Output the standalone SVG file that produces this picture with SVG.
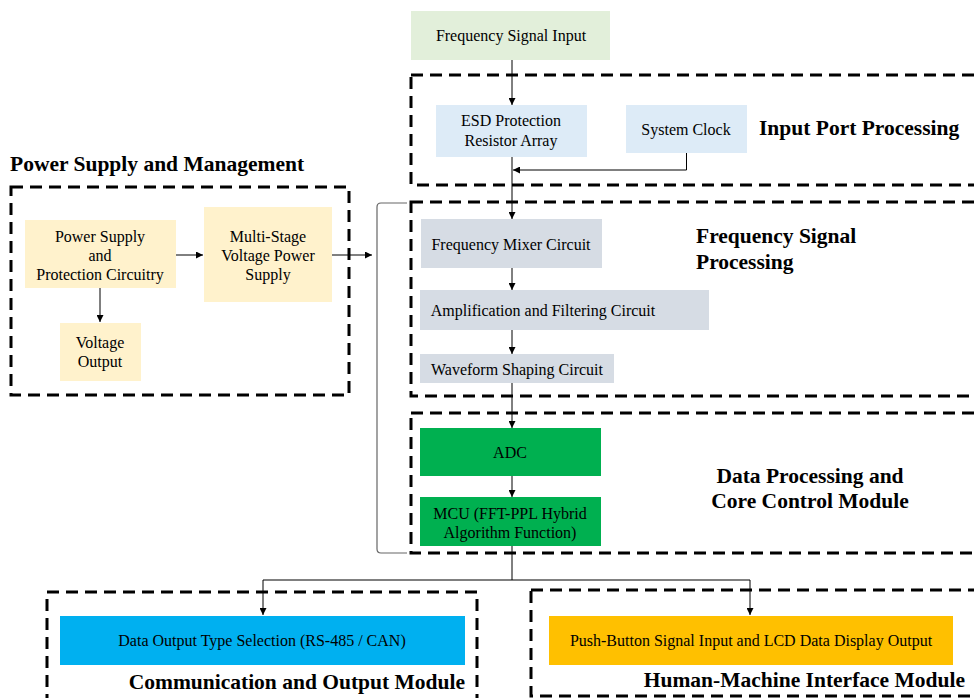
<svg xmlns="http://www.w3.org/2000/svg" width="974" height="698" viewBox="0 0 974 698">
  <defs>
    <marker id="arrow" viewBox="0 0 10 10" refX="10" refY="5" markerWidth="7" markerHeight="7" markerUnits="userSpaceOnUse" orient="auto">
      <path d="M0,0 L10,5 L0,10 z" fill="#000"/>
    </marker>
    <style>
      .group { fill: none; stroke: #000; stroke-width: 3; stroke-dasharray: 12 7; }
      .node text { font-family: "Liberation Serif", "Times New Roman", serif; font-size: 16px; fill: #000; text-anchor: middle; }
      .title { font-family: "Liberation Serif", "Times New Roman", serif; font-size: 21.5px; font-weight: bold; fill: #000; }
      .wire { fill: none; stroke: #000; stroke-width: 1; }
      .wire.arrow { marker-end: url(#arrow); }
      .bracket { fill: none; stroke: #666; stroke-width: 1.2; }
    </style>
  </defs>
  <rect width="974" height="698" fill="#fff"/>

  <!-- module frames -->
  <g id="frames">
    <rect class="group" x="411" y="75" width="600" height="110"/>
    <rect class="group" x="411" y="202" width="600" height="194"/>
    <rect class="group" x="411" y="413" width="600" height="140"/>
    <rect class="group" x="11" y="187" width="338" height="208"/>
    <rect class="group" x="47" y="592" width="430" height="140"/>
    <rect class="group" x="531" y="590" width="480" height="106"/>
  </g>

  <!-- module titles -->
  <g id="titles">
    <text class="title" x="10" y="171">Power Supply and Management</text>
    <text class="title" x="759" y="135">Input Port Processing</text>
    <text class="title" x="696" y="243">Frequency Signal</text>
    <text class="title" x="696" y="269">Processing</text>
    <text class="title" x="810" y="483" text-anchor="middle">Data Processing and</text>
    <text class="title" x="810" y="508" text-anchor="middle">Core Control Module</text>
    <text class="title" x="465" y="689" text-anchor="end">Communication and Output Module</text>
    <text class="title" x="965" y="687" text-anchor="end">Human-Machine Interface Module</text>
  </g>

  <!-- nodes -->
  <g id="freq-input" class="node">
    <rect x="411" y="11" width="199" height="49" fill="#E2EFDA"/>
    <text x="511" y="41">Frequency Signal Input</text>
  </g>
  <g id="esd" class="node">
    <rect x="436" y="105" width="151" height="52" fill="#DDEBF7"/>
    <text x="511" y="126">ESD Protection</text>
    <text x="511" y="146">Resistor Array</text>
  </g>
  <g id="clock" class="node">
    <rect x="626" y="105" width="121" height="48" fill="#DDEBF7"/>
    <text x="686" y="135">System Clock</text>
  </g>
  <g id="mixer" class="node">
    <rect x="421" y="219" width="181" height="49" fill="#D6DCE4"/>
    <text x="511" y="250">Frequency Mixer Circuit</text>
  </g>
  <g id="amp" class="node">
    <rect x="420" y="290" width="289" height="40" fill="#D6DCE4"/>
    <text x="543" y="316">Amplification and Filtering Circuit</text>
  </g>
  <g id="shaping" class="node">
    <rect x="420" y="354" width="194" height="29" fill="#D6DCE4"/>
    <text x="517" y="375">Waveform Shaping Circuit</text>
  </g>
  <g id="adc" class="node">
    <rect x="420" y="428" width="181" height="48" fill="#00B050"/>
    <text x="510" y="458">ADC</text>
  </g>
  <g id="mcu" class="node">
    <rect x="420" y="497" width="181" height="49" fill="#00B050"/>
    <text x="510" y="519">MCU (FFT-PPL Hybrid</text>
    <text x="510" y="538">Algorithm Function)</text>
  </g>
  <g id="psu" class="node">
    <rect x="25" y="220" width="151" height="68" fill="#FFF2CC"/>
    <text x="100" y="242">Power Supply</text>
    <text x="100" y="261">and</text>
    <text x="100" y="280">Protection Circuitry</text>
  </g>
  <g id="multistage" class="node">
    <rect x="204" y="207" width="128" height="95" fill="#FFF2CC"/>
    <text x="268" y="242">Multi-Stage</text>
    <text x="268" y="261">Voltage Power</text>
    <text x="268" y="280">Supply</text>
  </g>
  <g id="vout" class="node">
    <rect x="60" y="323" width="81" height="58" fill="#FFF2CC"/>
    <text x="100" y="348">Voltage</text>
    <text x="100" y="367">Output</text>
  </g>
  <g id="data-output" class="node">
    <rect x="60" y="616" width="405" height="49" fill="#00B0F0"/>
    <text x="262" y="646">Data Output Type Selection (RS-485 / CAN)</text>
  </g>
  <g id="hmi" class="node">
    <rect x="549" y="616" width="404" height="49" fill="#FFC000"/>
    <text x="751" y="646">Push-Button Signal Input and LCD Data Display Output</text>
  </g>

  <!-- connectors -->
  <g id="connectors">
    <path class="wire arrow" d="M512,60 V105"/>
    <path class="wire arrow" d="M686.5,153 V170 H513"/>
    <path class="wire arrow" d="M512,157 V219"/>
    <path class="wire arrow" d="M512,268 V290"/>
    <path class="wire arrow" d="M512,330 V354"/>
    <path class="wire arrow" d="M512,383 V428"/>
    <path class="wire arrow" d="M512,476 V497"/>
    <path class="wire" d="M512,546 V580"/>
    <path class="wire arrow" d="M263,580 H750 V615"/>
    <path class="wire arrow" d="M263,580 V615"/>
    <path class="wire arrow" d="M100,288 V322"/>
    <path class="wire arrow" d="M176,255 H203"/>
    <path class="wire arrow" d="M332,255 H372"/>
    <path class="bracket" d="M407,203 H381 Q377,203 377,207 V549 Q377,553 381,553 H407"/>
  </g>
</svg>
